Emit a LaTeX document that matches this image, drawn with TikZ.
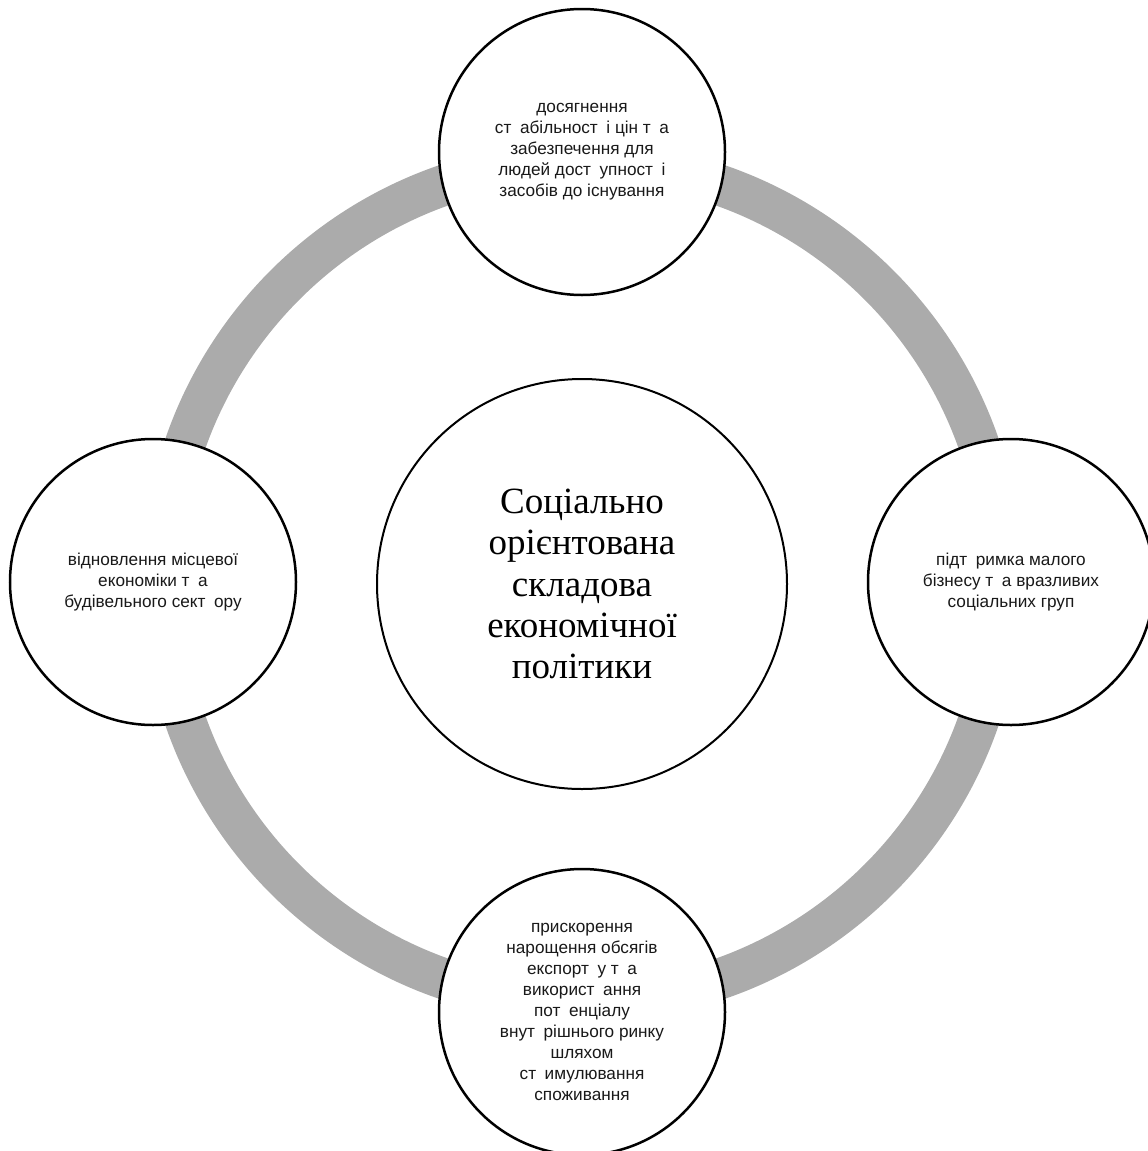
\documentclass[tikz,border=0pt]{standalone}
\usepackage{fontspec}
\setmainfont{Liberation Serif}
\newfontfamily\satfont{Liberation Sans}
\newcommand\gp{\hspace{0.5em}}
\definecolor{ringgray}{RGB}{171,171,171}
\definecolor{txt}{RGB}{25,25,25}
\begin{document}
\begin{tikzpicture}[x=0.5pt,y=-0.5pt,
  sat/.style={circle, draw=black, line width=1.25pt, fill=white, minimum size=143pt, inner sep=0pt, align=center,
    text=txt, font=\satfont\fontsize{8.6}{10.5}\selectfont},
  hub/.style={circle, draw=black, line width=1pt, fill=white, minimum size=205pt, inner sep=0pt, align=center,
    text=black, font=\rmfamily\fontsize{18.5}{20.6}\selectfont}]
\useasboundingbox (0,0) rectangle (1147,1151);
\coordinate (c) at (582,582);
\draw[ringgray, line width=20.5pt] (c) circle[radius=210pt];
\node[hub] (hub) at (582,584) {Соціально\\орієнтована\\складова\\економічної\\політики};
\node[sat] (top) at (582,152) {досягнення\\ст\gp абільност\gp і цін т\gp а\\забезпечення для\\людей дост\gp упност\gp і\\засобів до існування};
\node[sat] (left) at (153,582) {відновлення місцевої\\економіки т\gp а\\будівельного сект\gp ору};
\node[sat] (right) at (1011,582) {підт\gp римка малого\\бізнесу т\gp а вразливих\\соціальних груп};
\node[sat] (bottom) at (582,1012) {прискорення\\нарощення обсягів\\експорт\gp у т\gp а\\використ\gp ання\\пот\gp енціалу\\внут\gp рішнього ринку\\шляхом\\ст\gp имулювання\\споживання};
\end{tikzpicture}
\end{document}
